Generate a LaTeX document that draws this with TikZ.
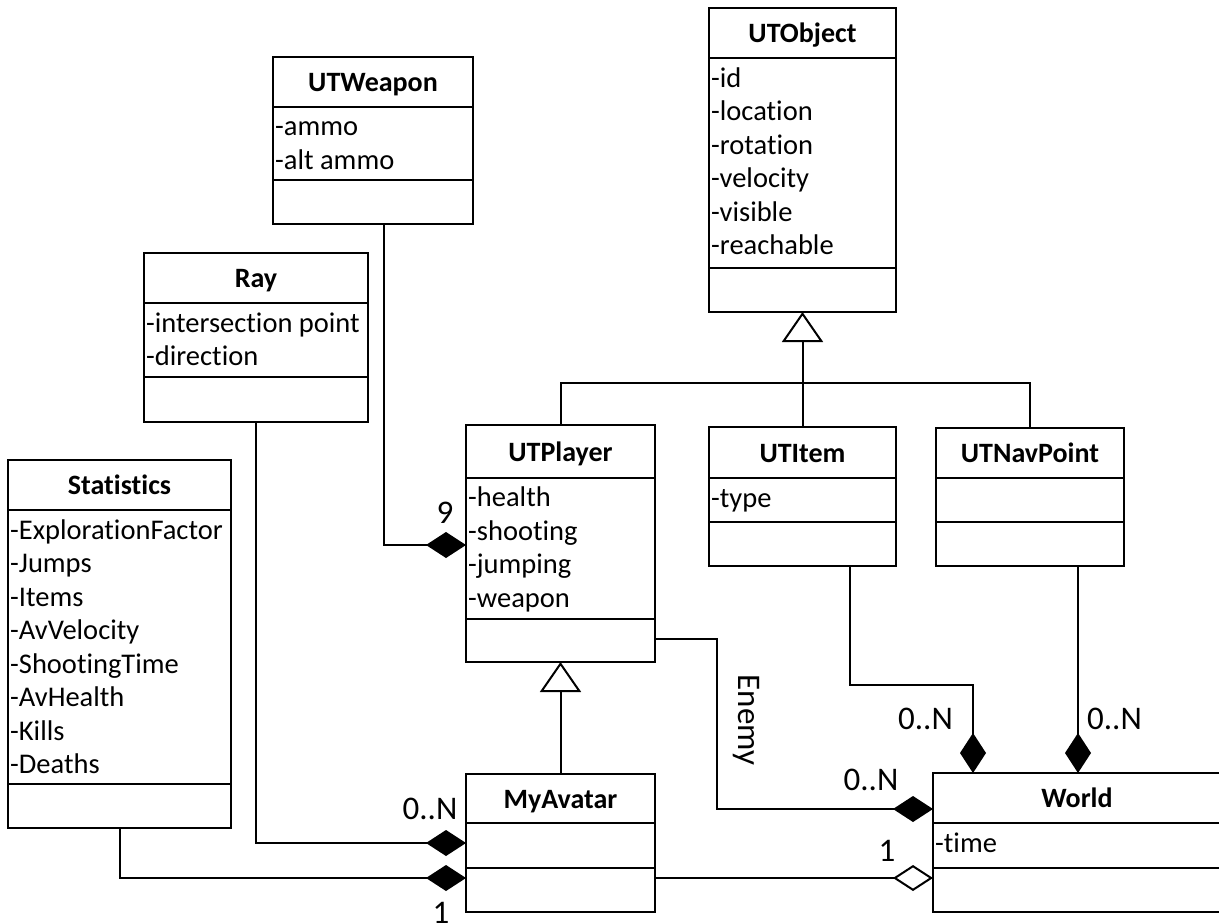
\documentclass[tikz,border=0pt]{standalone}
\usepackage{fontspec}
\setmainfont{Carlito}[Ligatures={NoCommon}]
\usetikzlibrary{arrows.meta,calc}
\tikzset{
  classbox/.style={draw, line width=2.6pt, inner sep=0pt, outer sep=0pt, anchor=north west},
  divider/.style={line width=2.6pt},
  ctitle/.style={font=\fontsize{28}{33.5}\selectfont\bfseries, anchor=base, inner sep=0pt},
  attr/.style={font=\fontsize{28.5}{33.5}\selectfont, anchor=base west, inner sep=0pt},
  mult/.style={font=\fontsize{33}{40}\selectfont, anchor=base, inner sep=0pt},
  conn/.style={line width=2pt},
  comp/.style={conn, -{Diamond[length=40pt,width=26pt]}},
  aggr/.style={conn, -{Diamond[open,fill=white,length=40pt,width=26pt]}},
  gen/.style={conn, -{Triangle[open,fill=white,length=30pt,width=41pt]}},
}
\newcommand\umlbox[8]{%
  \node[classbox, minimum width={#4-#2}, minimum height={#5-#3}] (#1) at (#2,#3) {};
  \draw[divider] (#1.west |- 0,#6) -- (#1.east |- 0,#6);
  \draw[divider] (#1.west |- 0,#7) -- (#1.east |- 0,#7);
  \node[ctitle] (#1-title) at ({(#2+#4)/2},{(#3+#6)/2+9.5}) {#8};
}
\begin{document}
\begin{tikzpicture}[x=1pt,y=-1pt]
\fill[white] (0,0) rectangle (1219,924);
\useasboundingbox (0,0) rectangle (1219,924);

% classes
\umlbox{UTWeapon}{273}{57}{473}{224}{107}{180}{UTWeapon}
\umlbox{UTObject}{709}{8}{896}{312}{58}{268}{UTObject}
\umlbox{Ray}{144}{253}{368}{422}{303}{377}{Ray}
\umlbox{Statistics}{8}{460}{231}{828}{510}{784}{Statistics}
\umlbox{UTPlayer}{466}{425}{655}{662}{478}{619}{UTPlayer}
\umlbox{UTItem}{709}{427}{896}{566}{478}{522}{UTItem}
\umlbox{UTNavPoint}{936}{428}{1124}{566}{478}{522}{UTNavPoint}
\umlbox{MyAvatar}{466}{774}{655}{912}{823}{868}{MyAvatar}
\umlbox{World}{933}{773}{1221}{912}{823}{868}{World}

% attributes
\foreach \t [count=\i] in {-ammo,-alt ammo}
  \node[attr] (UTWeapon-a\i) at (275,{107+28.5+33.5*(\i-1)}) {\t};
\foreach \t [count=\i] in {-id,-location,-rotation,-velocity,-visible,-reachable}
  \node[attr] (UTObject-a\i) at (711,{58+29+33.5*(\i-1)}) {\t};
\foreach \t [count=\i] in {-intersection point,-direction}
  \node[attr] (Ray-a\i) at (146,{303+29+33.5*(\i-1)}) {\t};
\foreach \t [count=\i] in {-ExplorationFactor,-Jumps,-Items,-AvVelocity,-ShootingTime,-AvHealth,-Kills,-Deaths}
  \node[attr] (Statistics-a\i) at (10,{510+29+33.5*(\i-1)}) {\t};
\foreach \t [count=\i] in {-health,-shooting,-jumping,-weapon}
  \node[attr] (UTPlayer-a\i) at (468,{478+28.5+33.5*(\i-1)}) {\t};
\node[attr] (UTItem-a1) at (711,507) {-type};
\node[attr] (World-a1) at (935,852) {-time};

% generalisations
\draw[gen] (UTItem.north) -- (UTObject.south);
\draw[conn] (UTPlayer.north) -- ++(0,-42) -| (UTNavPoint.north);
\draw[gen] (MyAvatar.north) -- (UTPlayer.south);

% compositions / aggregation
\draw[comp] ($(UTWeapon.south west)+(111,0)$) |- ($(UTPlayer.north west)+(0,120)$);
\draw[comp] ($(Ray.south west)+(112,0)$) |- ($(MyAvatar.north west)+(0,69)$);
\draw[comp] ($(Statistics.south west)+(112,0)$) |- ($(MyAvatar.north west)+(0,104)$);
\draw[comp] ($(UTPlayer.north east)+(0,214)$) -- ++(62,0) |- ($(World.north west)+(0,36)$);
\draw[comp] ($(UTItem.south west)+(141,0)$) -- ++(0,119) -| ($(World.north west)+(40,0)$);
\draw[comp] ($(UTNavPoint.south west)+(142,0)$) -- ($(World.north west)+(145,0)$);
\draw[aggr] ($(MyAvatar.north east)+(0,104)$) -- ($(World.north west)+(0,105)$);

% multiplicities
\node[mult] (m9) at (445,523) {9};
\node[mult] (mRay) at (430,819) {0..N};
\node[mult] (mStat) at (441,923) {1};
\node[mult] (mEnemy) at (871,790) {0..N};
\node[mult] (mWorld1) at (887,861) {1};
\node[mult] (mItem) at (925.5,729) {0..N};
\node[mult] (mNav) at (1114.5,729) {0..N};
\node[font=\fontsize{33}{40}\selectfont, rotate=-90, inner sep=0pt] (enemy) at (746,720) {Enemy};
\end{tikzpicture}
\end{document}
